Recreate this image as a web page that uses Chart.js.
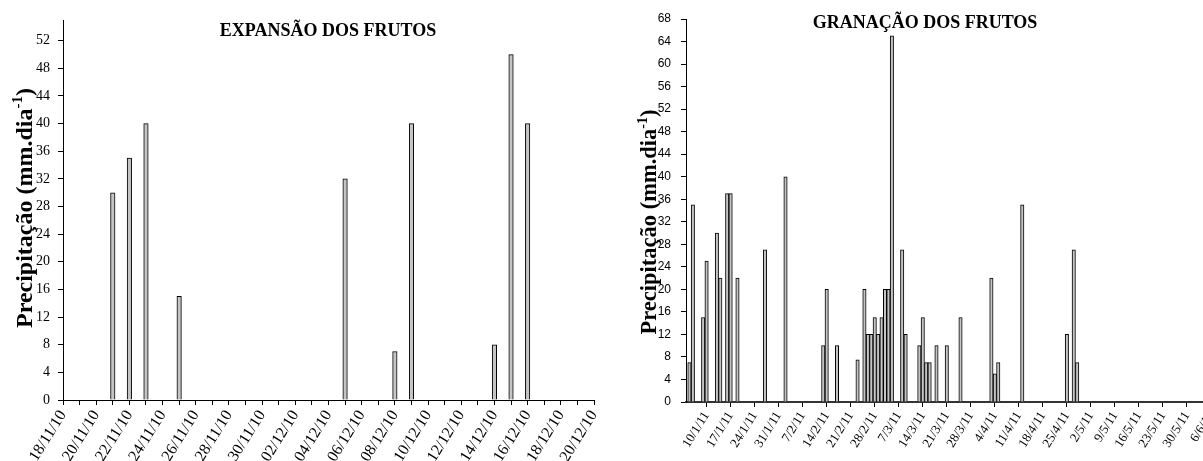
<!DOCTYPE html>
<html>
<head>
<meta charset="utf-8">
<script src="https://cdn.jsdelivr.net/npm/chart.js@4.4.1/dist/chart.umd.min.js"></script>
<style>
  html, body { margin: 0; padding: 0; background: #fff; overflow: hidden; width: 1203px; height: 461px; }
  .painel { position: absolute; top: 0; height: 461px; }
  #painelA { left: 0; width: 600px; }
  #painelB { left: 600px; width: 625px; }
</style>
</head>
<body>
<div class="painel" id="painelA"><canvas id="expansao"></canvas></div>
<div class="painel" id="painelB"><canvas id="granacao"></canvas></div>
<script>
// Expansão dos frutos: dias de 18/11/2010 a 20/12/2010
const expansaoInicio = '2010-11-18';
const expansaoFim = '2010-12-20';
const expansaoDias = ['21/11/10', '22/11/10', '23/11/10', '25/11/10', '05/12/10', '08/12/10', '09/12/10', '14/12/10', '15/12/10', '16/12/10'];
const expansaoChuva = [30, 35, 40, 15, 32, 7, 40, 8, 50, 40];
const expansaoEixoY = [0, 55];

// Granação dos frutos: dias de 04/01/2011 a 06/06/2011
const granacaoInicio = '2011-01-04';
const granacaoFim = '2011-06-06';
const granacaoDias = ['5/1/11', '6/1/11', '9/1/11', '10/1/11', '13/1/11', '14/1/11', '16/1/11', '17/1/11', '19/1/11', '27/1/11',
  '2/2/11', '13/2/11', '14/2/11', '17/2/11', '23/2/11', '25/2/11', '26/2/11', '27/2/11', '28/2/11', '1/3/11',
  '2/3/11', '3/3/11', '4/3/11', '5/3/11', '8/3/11', '9/3/11', '13/3/11', '14/3/11', '15/3/11', '16/3/11',
  '18/3/11', '21/3/11', '25/3/11', '3/4/11', '4/4/11', '5/4/11', '12/4/11', '25/4/11', '27/4/11', '28/4/11'];
const granacaoChuva = [7, 35, 15, 25, 30, 22, 37, 37, 22, 27,
  40, 10, 20, 10, 7.5, 20, 12, 12, 15, 12,
  15, 20, 20, 65, 27, 12, 10, 15, 7, 7,
  10, 10, 15, 22, 5, 7, 35, 12, 27, 7];
const granacaoEixoY = [0, 68];

const tituloEixoY = 'Precipitação (mm.dia';
const expoenteEixoY = '-1';

// Lista diária de rótulos entre duas datas
function listaDias(inicio, fim, formato) {
  const dias = [];
  let d = new Date(inicio + 'T00:00:00Z');
  const ultimo = new Date(fim + 'T00:00:00Z');
  while (d <= ultimo) {
    dias.push(formato(d));
    d = new Date(d.getTime() + 86400000);
  }
  return dias;
}
const fmtDDMMAA = d => String(d.getUTCDate()).padStart(2, '0') + '/' + String(d.getUTCMonth() + 1).padStart(2, '0') + '/' + String(d.getUTCFullYear()).slice(2);
const fmtDMAA = d => d.getUTCDate() + '/' + (d.getUTCMonth() + 1) + '/' + String(d.getUTCFullYear()).slice(2);

// Título do painel e título do eixo Y (com expoente)
const rotulosPlugin = {
  id: 'rotulos',
  afterDraw(chart, args, opts) {
    const ctx = chart.ctx;
    ctx.save();
    ctx.fillStyle = '#000';
    ctx.font = opts.tituloFonte;
    ctx.textAlign = 'center';
    ctx.textBaseline = 'middle';
    ctx.fillText(opts.titulo, opts.tituloX, opts.tituloY);
    ctx.translate(opts.eixoX, opts.eixoY);
    ctx.rotate(-Math.PI / 2);
    ctx.textAlign = 'left';
    ctx.textBaseline = 'alphabetic';
    ctx.font = opts.eixoFonte;
    const w1 = ctx.measureText(tituloEixoY).width;
    ctx.font = opts.expFonte;
    const w2 = ctx.measureText(expoenteEixoY).width;
    ctx.font = opts.eixoFonte;
    const w3 = ctx.measureText(')').width;
    let x = -(w1 + w2 + w3) / 2;
    const base = opts.base;
    ctx.fillText(tituloEixoY, x, base);
    x += w1;
    ctx.font = opts.expFonte;
    ctx.fillText(expoenteEixoY, x, base - opts.elevacao);
    x += w2;
    ctx.font = opts.eixoFonte;
    ctx.fillText(')', x, base);
    ctx.restore();
  }
};

function montarGrafico(id, cfg) {
  return new Chart(document.getElementById(id), {
    type: 'bar',
    data: {
      labels: cfg.labels,
      datasets: [{
        data: cfg.dias.map((d, i) => ({ x: d, y: cfg.chuva[i] })),
        backgroundColor: '#c4c4c4',
        borderColor: '#000',
        borderWidth: 1,
        barThickness: cfg.espessura,
        borderSkipped: 'bottom'
      }]
    },
    options: {
      responsive: true,
      maintainAspectRatio: false,
      animation: false,
      layout: { padding: cfg.margens },
      plugins: {
        legend: { display: false },
        tooltip: { enabled: false },
        rotulos: cfg.rotulos
      },
      scales: {
        x: {
          type: 'category',
          offset: false,
          grid: { offset: false, drawOnChartArea: false, drawTicks: true, tickLength: 5, color: '#000' },
          border: { color: cfg.corEixoX, width: cfg.larguraEixoX },
          afterBuildTicks: s => { s.ticks = s.ticks.filter(cfg.filtroX); },
          afterFit: s => { s.height = cfg.alturaX; s.paddingLeft = 0; s.paddingRight = 0; },
          ticks: {
            autoSkip: false,
            minRotation: cfg.rotacao,
            maxRotation: cfg.rotacao,
            padding: 2,
            color: '#000',
            font: { family: 'Liberation Serif', size: cfg.fonteX },
            callback: function (value, index) { return cfg.mostraRotulo(index) ? this.getLabelForValue(value) : ''; }
          }
        },
        y: {
          min: cfg.eixoY[0],
          max: cfg.eixoY[1],
          grid: { drawOnChartArea: false, drawTicks: true, tickLength: 5, color: '#000' },
          border: { color: '#000', width: 1 },
          afterFit: s => { s.width = cfg.larguraY; },
          ticks: {
            stepSize: 4,
            includeBounds: false,
            padding: cfg.padY,
            color: '#000',
            font: { family: cfg.familiaY, size: cfg.fonteY }
          }
        }
      }
    },
    plugins: [rotulosPlugin]
  });
}

montarGrafico('expansao', {
  labels: listaDias(expansaoInicio, expansaoFim, fmtDDMMAA),
  dias: expansaoDias,
  chuva: expansaoChuva,
  eixoY: expansaoEixoY,
  espessura: 4.5,
  margens: { left: 0, right: 6, top: 20, bottom: 0 },
  corEixoX: '#000',
  larguraEixoX: 1,
  alturaX: 61,
  larguraY: 63,
  rotacao: 58,
  fonteX: 16,
  familiaY: 'Liberation Serif',
  fonteY: 14,
  padY: 8,
  filtroX: t => true,
  mostraRotulo: i => i % 2 === 0,
  rotulos: {
    titulo: 'EXPANSÃO DOS FRUTOS', tituloX: 328, tituloY: 31, tituloFonte: 'bold 18px "Liberation Serif"',
    eixoX: 25, eixoY: 208, base: 7, elevacao: 10,
    eixoFonte: 'bold 24px "Liberation Serif"', expFonte: 'bold 15px "Liberation Serif"'
  }
});

montarGrafico('granacao', {
  labels: listaDias(granacaoInicio, granacaoFim, fmtDMAA),
  dias: granacaoDias,
  chuva: granacaoChuva,
  eixoY: granacaoEixoY,
  espessura: 3.4,
  margens: { left: 0, right: 14, top: 19, bottom: 0 },
  corEixoX: '#333',
  larguraEixoX: 2,
  alturaX: 59,
  larguraY: 86,
  rotacao: 58,
  fonteX: 13,
  familiaY: 'Liberation Sans',
  fonteY: 12,
  padY: 10,
  filtroX: t => (t.value - 6) % 7 === 0,
  mostraRotulo: i => true,
  rotulos: {
    titulo: 'GRANAÇÃO DOS FRUTOS', tituloX: 325, tituloY: 23, tituloFonte: 'bold 18px "Liberation Serif"',
    eixoX: 49, eixoY: 222, base: 7, elevacao: 9,
    eixoFonte: 'bold 22.5px "Liberation Serif"', expFonte: 'bold 14px "Liberation Serif"'
  }
});
</script>
</body>
</html>
